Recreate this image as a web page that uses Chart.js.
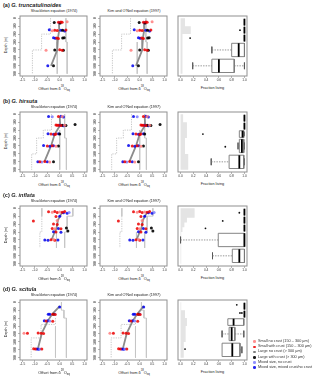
<!DOCTYPE html>
<html>
<head>
<meta charset="utf-8">
<script src="https://cdn.jsdelivr.net/npm/chart.js@4.4.1/dist/chart.umd.min.js"></script>
<style>
body { margin: 0; background: #fff; }
#fig { position: relative; width: 320px; height: 381px; overflow: hidden; font-family: "Liberation Sans", Arial, sans-serif; color: #222; }
#fig canvas { position: absolute; }
.t { position: absolute; white-space: nowrap; transform: translate(-50%, -50%); line-height: 1; }
.t sup, .t sub { font-size: 70%; line-height: 0; }
.ttl { position: absolute; white-space: nowrap; line-height: 1; font-weight: bold; transform: translate(0, -50%); }
.leg { position: absolute; left: 252px; top: 339px; font-size: 3.8px; line-height: 5.2px; color: #333; }
.leg div { position: relative; padding-left: 6px; white-space: nowrap; }
.leg span { position: absolute; left: 1.3px; top: 1.4px; width: 2.6px; height: 2.6px; border-radius: 50%; }
</style>
</head>
<body>
<div id="fig"></div>
<script>
// ---- labels / ticks ----
const rowLetters = ['(a)', '(b)', '(c)', '(d)'];
const speciesNames = ['G. truncatulinoides', 'G. hirsuta', 'G. inflata', 'G. scitula'];
const equationTitles = ['Shackleton equation (1974)', "Kim and O'Neil equation (1997)"];
const categoryNames = ['Small no crust (150 \u2013 300 \u00b5m)', 'Small with crust (150 \u2013 300 \u00b5m)', 'Large no crust (> 300 \u00b5m)',
  'Large with crust (> 300 \u00b5m)', 'Mixed size, no crust', 'Mixed size, mixed crust/no crust'];
const categoryColors = ['rgba(255,125,125,0.85)', 'rgba(235,0,0,0.85)', 'rgba(105,105,105,0.85)',
  'rgba(0,0,0,0.9)', 'rgba(125,125,255,0.85)', 'rgba(0,0,235,0.85)'];
const offsetTicks = [-1.5, -1.0, -0.5, 0.0, 0.5, 1.0];
const depthTicks = [0, 100, 200, 300, 400, 500, 600, 700];
const fractionTicks = [0, 0.2, 0.4, 0.6, 0.8, 1.0];
const boxEdges = [0, 100, 200, 300, 500, 700];

// ---- points: [category, depth, Shackleton offset, Kim & O'Neil offset] ----
const truncPoints = [
  [3, 55, -0.22, -0.02], [1, 50, -0.05, 0.15], [1, 47, 0.05, 0.25], [5, 58, 0.0, 0.2], [0, 45, 0.3, 0.5], [1, 52, 0.1, 0.3], [3, 60, 0.02, 0.22],
  [5, 145, -0.42, -0.22], [1, 150, -0.2, 0.0], [1, 155, -0.1, 0.1], [5, 150, 0.05, 0.25], [3, 152, 0.12, 0.32], [1, 148, 0.25, 0.45], [0, 158, -0.3, -0.1], [5, 160, 0.2, 0.4],
  [5, 245, -0.25, -0.05], [1, 250, -0.12, 0.08], [1, 255, -0.05, 0.15], [3, 250, 0.12, 0.32], [3, 247, 0.18, 0.38], [5, 252, -0.18, 0.02],
  [0, 405, -0.55, -0.35], [3, 400, -0.2, 0.0], [1, 398, 0.0, 0.2], [1, 402, 0.1, 0.3], [3, 405, 0.15, 0.35],
  [5, 600, -0.48, -0.28], [3, 598, -0.25, -0.05]
];
const hirsutaPoints = [
  [5, 28, -0.45, -0.25], [4, 32, -0.3, -0.1], [1, 30, -0.05, 0.15], [5, 25, 0.05, 0.25], [5, 35, 0.15, 0.35], [0, 30, 0.1, 0.3],
  [1, 135, -0.15, 0.05], [1, 140, -0.05, 0.15], [5, 138, 0.0, 0.2], [1, 142, 0.05, 0.25], [3, 140, 0.1, 0.3], [5, 145, 0.15, 0.35], [0, 138, 0.2, 0.4], [3, 143, 0.25, 0.45], [1, 140, -0.1, 0.1], [3, 130, 0.62, 0.82],
  [5, 245, -0.47, -0.27], [1, 250, -0.35, -0.15], [5, 252, -0.25, -0.05], [1, 248, -0.15, 0.05], [3, 250, 0.0, 0.2], [1, 255, -0.2, 0.0], [5, 246, -0.05, 0.15],
  [5, 395, -0.65, -0.45], [1, 400, -0.5, -0.3], [5, 402, -0.4, -0.2], [1, 398, -0.3, -0.1], [3, 400, -0.05, 0.15], [0, 405, -0.15, 0.05], [5, 397, -0.25, -0.05],
  [5, 598, -0.88, -0.68], [1, 600, -0.8, -0.6], [4, 602, -0.72, -0.52], [1, 597, -0.6, -0.4], [5, 600, -0.5, -0.3], [3, 600, -0.25, -0.05], [0, 603, -0.4, -0.2]
];
const inflataPoints = [
  [1, 45, -0.45, -0.25], [0, 50, -0.3, -0.1], [1, 42, -0.2, 0.0], [1, 55, -0.1, 0.1], [0, 48, 0.0, 0.2], [1, 52, 0.1, 0.3], [5, 58, 0.15, 0.35], [5, 62, 0.3, 0.5], [4, 55, 0.38, 0.58], [1, 40, 0.2, 0.4],
  [5, 100, 0.0, 0.2], [1, 105, -0.15, 0.05],
  [1, 160, -1.06, -0.86], [0, 155, -0.1, 0.1],
  [1, 200, -0.25, -0.05], [1, 205, -0.1, 0.1],
  [1, 255, -0.3, -0.1], [0, 258, -0.2, 0.0], [5, 255, -0.05, 0.15], [1, 260, 0.05, 0.25], [3, 250, 0.27, 0.47],
  [5, 298, -0.25, -0.05], [1, 300, -0.15, 0.05], [5, 302, 0.05, 0.25], [3, 286, 0.33, 0.53],
  [5, 400, -0.6, -0.4], [5, 405, -0.47, -0.27], [1, 398, -0.35, -0.15], [1, 402, -0.2, 0.0], [5, 400, -0.07, 0.13], [0, 395, -0.25, -0.05]
];
const scitulaPoints = [
  [5, 60, 0.0, 0.16],
  [5, 150, -0.46, -0.26], [5, 152, -0.4, -0.2], [4, 148, -0.2, 0.0], [1, 150, -0.28, -0.08], [3, 152, -0.25, -0.05], [1, 155, -0.18, 0.02],
  [5, 235, -0.62, -0.42], [1, 238, -0.55, -0.35], [5, 232, -0.48, -0.28], [4, 236, -0.4, -0.2], [1, 240, -0.28, -0.08],
  [0, 392, -1.44, -1.2], [1, 390, -1.3, -1.06], [1, 388, -0.87, -0.67], [1, 392, -0.75, -0.55], [1, 395, -0.65, -0.45],
  [1, 585, -1.05, -0.85], [1, 590, -0.98, -0.78], [5, 588, -0.92, -0.72], [5, 592, -0.85, -0.65], [4, 588, -0.8, -0.6], [1, 590, -0.72, -0.52]
];

// ---- mean profiles ----
const truncMeanDepth = [50, 150, 250, 400, 600];
const truncMeanShack = [-0.03, -0.02, -0.07, -0.1, -0.35];
const truncMeanKim = [0.17, 0.18, 0.13, 0.1, -0.15];
const hirsutaMeanDepth = [30, 140, 250, 400, 600];
const hirsutaMeanShack = [0.0, 0.02, -0.2, -0.35, -0.62];
const hirsutaMeanKim = [0.2, 0.22, 0.0, -0.15, -0.42];
const inflataMeanDepth = [50, 150, 255, 300, 400];
const inflataMeanShack = [0.1, -0.07, -0.13, -0.2, -0.33];
const inflataMeanKim = [0.3, 0.13, 0.07, 0.0, -0.13];
const scitulaMeanDepth = [50, 150, 235, 390, 588];
const scitulaMeanShack = [0.0, -0.3, -0.48, -0.72, -0.88];
const scitulaMeanKim = [0.16, -0.1, -0.28, -0.52, -0.68];

// ---- equilibrium envelopes (depth edges, offset per interval) ----
const truncDotEdges = [0, 200, 400, 700], truncDot = [-0.37, -0.73, -1.1];
const truncOuterEdges = [0, 300, 700], truncOuter = [0.25, 0.3];
const truncInnerEdges = [300, 700], truncInner = [-0.1];
const hirsutaDotEdges = [0, 200, 300, 500, 700], hirsutaDot = [-0.33, -0.66, -0.93, -1.13];
const hirsutaOuterEdges = [0, 300, 700], hirsutaOuter = [0.2, 0.27];
const hirsutaInnerEdges = [200, 700], hirsutaInner = [0.0];
const inflataDotEdges = [100, 300, 500], inflataDot = [-0.72, -0.8];
const inflataOuterEdges = [0, 100, 300, 500], inflataOuter = [0.53, 0.3, 0.2];
const inflataInnerEdges = [0, 100, 300, 500], inflataInner = [-0.72, null, -0.13];
const scitulaDotEdges = [200, 280, 450, 700], scitulaDot = [-0.17, -0.75, -1.15];
const scitulaOuterEdges = [0, 100, 200, 700], scitulaOuter = [0.07, 0.17, 0.27];
const scitulaInnerEdges = [300, 700], scitulaInner = [-0.17];

// ---- fraction living: box stats per depth interval ----
const truncQ1 = [1, 1, 1, 0.80, 0.49], truncMed = [1, 1, 1, 0.91, 0.60], truncQ3 = [1, 1, 1, 1, 0.84];
const truncLo = [1, 1, 1, 0.49, 0.19], truncHi = [1, 1, 1, 1, 1];
const truncOutliers = [[0.93, 150], [0.15, 250]];
const truncHistEdges = [0, 100, 200, 300, 500, 700], truncHist = [0.07, 0.16, 0.03, 0.03, 0.03];
const hirsutaQ1 = [1, 1, 0.92, 0.92, 0.76], hirsutaMed = [1, 1, 0.97, 0.96, 0.92], hirsutaQ3 = [1, 1, 0.99, 0.99, 0.99];
const hirsutaLo = [1, 1, 0.92, 0.9, 0.48], hirsutaHi = [1, 1, 1, 1, 1];
const hirsutaOutliers = [[0.35, 250], [0.70, 410]];
const hirsutaHistEdges = [0, 100, 200, 300, 500, 700], hirsutaHist = [0.04, 0.1, 0.1, 0.07, 0.12];
const inflataQ1 = [1, 1, 1, 0.59, 0.81], inflataMed = [1, 1, 1, 1, 0.92], inflataQ3 = [1, 1, 1, 1, 1];
const inflataLo = [1, 1, 1, 0.0, 0.5], inflataHi = [1, 1, 1, 1, 1];
const inflataOutliers = [[0.92, 57], [0.66, 160], [0.39, 253]];
const inflataHistEdges = [0, 120, 180, 240, 300, 500, 700], inflataHist = [0.22, 0.1, 0.06, 0.03, 0.01, 0.01];
const scitulaQ1 = [1, 1, 0.74, 0.76, 0.65], scitulaMed = [1, 1, 0.83, 0.80, 0.81], scitulaQ3 = [1, 1, 0.99, 0.85, 0.93];
const scitulaLo = [1, 1, 0.74, 0.65, 0.65], scitulaHi = [1, 1, 0.99, 0.99, 0.96];
const scitulaOutliers = [[0.88, 33], [0.93, 136], [0.96, 136], [0.07, 590]];
const scitulaHistEdges = [0, 100, 200, 300, 500, 700], scitulaHist = [0.01, 0.07, 0.1, 0.08, 0.05];

const rows = [
  { pts: truncPoints, md: truncMeanDepth, ms: truncMeanShack, mk: truncMeanKim,
    dot: [truncDotEdges, truncDot], outer: [truncOuterEdges, truncOuter], inner: [truncInnerEdges, truncInner],
    box: [truncQ1, truncMed, truncQ3, truncLo, truncHi], out: truncOutliers, hist: [truncHistEdges, truncHist] },
  { pts: hirsutaPoints, md: hirsutaMeanDepth, ms: hirsutaMeanShack, mk: hirsutaMeanKim,
    dot: [hirsutaDotEdges, hirsutaDot], outer: [hirsutaOuterEdges, hirsutaOuter], inner: [hirsutaInnerEdges, hirsutaInner],
    box: [hirsutaQ1, hirsutaMed, hirsutaQ3, hirsutaLo, hirsutaHi], out: hirsutaOutliers, hist: [hirsutaHistEdges, hirsutaHist] },
  { pts: inflataPoints, md: inflataMeanDepth, ms: inflataMeanShack, mk: inflataMeanKim,
    dot: [inflataDotEdges, inflataDot], outer: [inflataOuterEdges, inflataOuter], inner: [inflataInnerEdges, inflataInner],
    box: [inflataQ1, inflataMed, inflataQ3, inflataLo, inflataHi], out: inflataOutliers, hist: [inflataHistEdges, inflataHist] },
  { pts: scitulaPoints, md: scitulaMeanDepth, ms: scitulaMeanShack, mk: scitulaMeanKim,
    dot: [scitulaDotEdges, scitulaDot], outer: [scitulaOuterEdges, scitulaOuter], inner: [scitulaInnerEdges, scitulaInner],
    box: [scitulaQ1, scitulaMed, scitulaQ3, scitulaLo, scitulaHi], out: scitulaOutliers, hist: [scitulaHistEdges, scitulaHist] }
];

// ---- layout ----
const FONT = '"Liberation Sans", Arial, sans-serif';
const rowTop = [15, 111, 205, 299];
const boxH = 61;
const fig = document.getElementById('fig');

const framePlugin = {
  id: 'frame',
  afterDatasetsDraw(chart) {
    const a = chart.chartArea, ctx = chart.ctx;
    ctx.save();
    ctx.strokeStyle = '#909090'; ctx.lineWidth = 1;
    ctx.strokeRect(a.left, a.top, a.right - a.left, a.bottom - a.top);
    ctx.restore();
  }
};

function addCanvas(left, top, w, h) {
  const c = document.createElement('canvas');
  c.width = w; c.height = h;
  c.style.left = left + 'px'; c.style.top = top + 'px';
  c.style.width = w + 'px'; c.style.height = h + 'px';
  fig.appendChild(c);
  return c;
}

function addText(html, x, y, size, cls) {
  const d = document.createElement('div');
  d.className = cls || 't';
  d.innerHTML = html;
  d.style.left = x + 'px'; d.style.top = y + 'px'; d.style.fontSize = size + 'px';
  fig.appendChild(d);
  return d;
}

function xScale(min, max, ticks) {
  return {
    type: 'linear', min: min, max: max,
    afterBuildTicks: s => { s.ticks = ticks.map(v => ({ value: v })); },
    afterFit: s => { s.height = 9; },
    ticks: { font: { size: 3.2, family: FONT }, color: '#333', padding: 0.5, maxRotation: 0, autoSkip: false, callback: v => v.toFixed(1) },
    grid: { drawOnChartArea: false, tickLength: 2, color: '#888', lineWidth: 0.6 },
    border: { display: false }
  };
}

function yScale(width, show) {
  return {
    type: 'linear', reverse: true, min: -28, max: 728, display: show,
    afterBuildTicks: s => { s.ticks = depthTicks.map(v => ({ value: v })); },
    afterFit: s => { s.width = width; },
    ticks: { font: { size: 3.2, family: FONT }, color: '#333', padding: 0, minRotation: 90, maxRotation: 90, crossAlign: 'center', autoSkip: false },
    grid: { drawOnChartArea: false, tickLength: 2, color: '#888', lineWidth: 0.6 },
    border: { display: false }
  };
}

function stepPoints(edges, vals) {
  const pts = [];
  vals.forEach((v, i) => {
    if (v === null) { pts.push({ x: null, y: null }); return; }
    pts.push({ x: v, y: edges[i] }, { x: v, y: edges[i + 1] });
  });
  return pts;
}

function lineSet(data, color, width, dash, order) {
  return { data: data, showLine: true, borderColor: color, borderWidth: width, borderDash: dash || [],
    pointRadius: 0, fill: false, order: order };
}

function makeChart(canvas, datasets, xs, ys, pad) {
  return new Chart(canvas, {
    type: 'scatter',
    data: { datasets: datasets },
    options: {
      responsive: false, animation: false, events: [],
      layout: { padding: pad },
      plugins: { legend: { display: false }, tooltip: { enabled: false } },
      scales: { x: xs, y: ys }
    },
    plugins: [framePlugin]
  });
}

function scatterPanel(row, eq, top, left, axisW) {
  const ds = [];
  ds.push(lineSet(stepPoints(row.dot[0], row.dot[1]), '#b8b8b8', 0.8, [1.2, 1.2], 5));
  ds.push(lineSet(stepPoints(row.outer[0], row.outer[1]), '#c6c6c6', 0.9, null, 5));
  ds.push(lineSet(stepPoints(row.inner[0], row.inner[1]), '#c6c6c6', 0.9, null, 5));
  const mean = eq === 0 ? row.ms : row.mk;
  ds.push(lineSet(row.md.map((d, i) => ({ x: mean[i], y: d })), '#8c8c8c', 1.8, null, 4));
  categoryColors.forEach((col, c) => {
    ds.push({
      data: row.pts.filter(p => p[0] === c).map(p => ({ x: p[2 + eq], y: p[1] })),
      pointRadius: 1.5, pointBackgroundColor: col, pointBorderWidth: 0, order: 0
    });
  });
  const canvas = addCanvas(left, top - 3, axisW + 68 + 3, 3 + boxH + 9);
  makeChart(canvas, ds, xScale(-1.6, 1.1, offsetTicks), yScale(axisW, true), { top: 3, right: 3, left: 0, bottom: 0 });
}

function boxPanel(row, top) {
  const [q1, med, q3, lo, hi] = row.box;
  const boxLines = [], medLines = [], whiskers = [], staples = [];
  const gap = { x: null, y: null };
  q1.forEach((v, i) => {
    const a = boxEdges[i], b = boxEdges[i + 1], h = b - a;
    const y0 = a + h * 0.08, y1 = b - h * 0.08, mid = (a + b) / 2;
    boxLines.push({ x: q1[i], y: y0 }, { x: q3[i], y: y0 }, { x: q3[i], y: y1 }, { x: q1[i], y: y1 }, { x: q1[i], y: y0 }, gap);
    medLines.push({ x: med[i], y: y0 }, { x: med[i], y: y1 }, gap);
    if (lo[i] < q1[i]) {
      whiskers.push({ x: lo[i], y: mid }, { x: q1[i], y: mid }, gap);
      staples.push({ x: lo[i], y: mid - h * 0.21 }, { x: lo[i], y: mid + h * 0.21 }, gap);
    }
    if (hi[i] > q3[i]) {
      whiskers.push({ x: q3[i], y: mid }, { x: hi[i], y: mid }, gap);
      staples.push({ x: hi[i], y: mid - h * 0.21 }, { x: hi[i], y: mid + h * 0.21 }, gap);
    }
  });
  const [he, hv] = row.hist;
  const histPoly = [{ x: 0, y: he[0] }];
  hv.forEach((v, i) => { histPoly.push({ x: v, y: he[i] }, { x: v, y: he[i + 1] }); });
  histPoly.push({ x: 0, y: he[he.length - 1] }, { x: 0, y: he[0] });

  const ds = [
    { data: histPoly, showLine: true, fill: 'shape', backgroundColor: '#e4e4e4', borderColor: 'rgba(0,0,0,0)', borderWidth: 0, pointRadius: 0, order: 9 },
    lineSet(whiskers, '#7a7a7a', 0.8, [1.4, 1.2], 3),
    lineSet(staples, '#555', 0.8, null, 3),
    lineSet(boxLines, '#777', 0.9, null, 2),
    lineSet(medLines, '#000', 1.8, null, 1),
    { data: row.out.map(p => ({ x: p[0], y: p[1] })), pointRadius: 0.9, pointBackgroundColor: '#111', pointBorderWidth: 0, order: 0 }
  ];
  const canvas = addCanvas(174, top - 3, 4 + 69 + 4, 3 + boxH + 9);
  makeChart(canvas, ds, xScale(-0.04, 1.04, fractionTicks),
    { type: 'linear', reverse: true, min: -28, max: 728, display: false },
    { top: 3, right: 4, left: 4, bottom: 0 });
}

rows.forEach((row, r) => {
  const T = rowTop[r];
  addText(rowLetters[r] + ' <i>' + speciesNames[r] + '</i>', 3, T - 9, 5.5, 'ttl');
  addText(equationTitles[0], 54, T - 2.8, 3.8);
  addText(equationTitles[1], 134, T - 2.8, 3.8);
  const dl = addText('Depth (m)', 7, T + 30, 3.7);
  dl.style.transform = 'translate(-50%, -50%) rotate(-90deg)';
  addText('Offset from \u03b4<sup>18</sup>O<sub>eq</sub>', 54, T + 74, 3.9);
  addText('Offset from \u03b4<sup>18</sup>O<sub>eq</sub>', 134, T + 74, 3.9);
  addText('Fraction living', 212.5, T + 74, 3.8);
  scatterPanel(row, 0, T, 0, 20);
  scatterPanel(row, 1, T, 88, 12);
  boxPanel(row, T);
});

// legend
const leg = document.createElement('div');
leg.className = 'leg';
categoryNames.forEach((name, i) => {
  const item = document.createElement('div');
  item.innerHTML = '<span style="background:' + categoryColors[i] + '"></span>' + name;
  leg.appendChild(item);
});
fig.appendChild(leg);
</script>
</body>
</html>
